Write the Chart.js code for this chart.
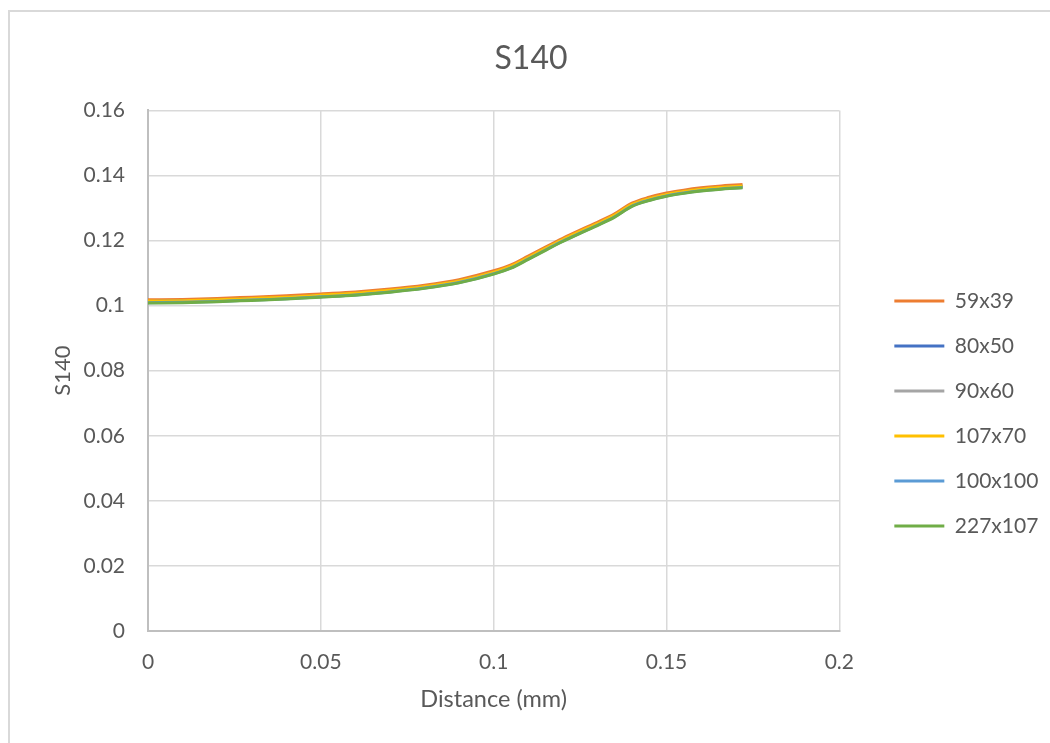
<!DOCTYPE html>
<html>
<head>
<meta charset="utf-8">
<script src="https://cdn.jsdelivr.net/npm/chart.js@4.4.1/dist/chart.umd.min.js"></script>
<style>
  html, body { margin: 0; padding: 0; background: #fff; }
  #wrap { position: relative; width: 1050px; height: 743px; overflow: hidden; }
  #frame { position: absolute; left: 8px; top: 10px; width: 1100px; height: 800px;
           border-left: 2px solid #d9d9d9; border-top: 2px solid #d9d9d9; }
  #trendChart { position: absolute; left: 0; top: 0; }
</style>
</head>
<body>
<div id="wrap">
  <div id="frame"></div>
  <canvas id="trendChart" width="1050" height="743"></canvas>
</div>
<script>
const distance = [0, 0.01, 0.02, 0.03, 0.04, 0.05, 0.06, 0.07, 0.08, 0.09, 0.1, 0.105, 0.11, 0.115, 0.12, 0.125, 0.13, 0.135, 0.14, 0.145, 0.15, 0.155, 0.16, 0.165, 0.172];

const s59x39 = [0.1018, 0.1019, 0.1022, 0.1026, 0.1030, 0.1036, 0.1042, 0.1051, 0.1063, 0.1080, 0.1107, 0.1125, 0.1152, 0.1180, 0.1207, 0.1232, 0.1256, 0.1282, 0.1315, 0.1333, 0.1346, 0.1355, 0.1362, 0.1367, 0.1372];
const s80x50 = [0.1013, 0.1014, 0.1017, 0.1021, 0.1025, 0.1031, 0.1037, 0.1046, 0.1058, 0.1075, 0.1102, 0.1120, 0.1147, 0.1175, 0.1202, 0.1227, 0.1251, 0.1277, 0.1310, 0.1328, 0.1341, 0.1350, 0.1357, 0.1362, 0.1367];
const s90x60 = [0.1012, 0.1013, 0.1016, 0.1020, 0.1024, 0.1030, 0.1036, 0.1045, 0.1057, 0.1074, 0.1101, 0.1119, 0.1146, 0.1174, 0.1201, 0.1226, 0.1250, 0.1276, 0.1309, 0.1327, 0.1340, 0.1349, 0.1356, 0.1361, 0.1366];
const s107x70 = [0.1014, 0.1015, 0.1018, 0.1022, 0.1026, 0.1032, 0.1038, 0.1047, 0.1059, 0.1076, 0.1103, 0.1121, 0.1148, 0.1176, 0.1203, 0.1228, 0.1252, 0.1278, 0.1311, 0.1329, 0.1342, 0.1351, 0.1358, 0.1363, 0.1368];
const s100x100 = [0.1009, 0.1010, 0.1013, 0.1017, 0.1021, 0.1027, 0.1033, 0.1042, 0.1054, 0.1071, 0.1098, 0.1116, 0.1143, 0.1171, 0.1198, 0.1223, 0.1247, 0.1273, 0.1306, 0.1324, 0.1337, 0.1346, 0.1353, 0.1358, 0.1363];
const s227x107 = [0.1008, 0.1009, 0.1012, 0.1016, 0.1020, 0.1026, 0.1032, 0.1041, 0.1053, 0.1070, 0.1097, 0.1115, 0.1142, 0.1170, 0.1197, 0.1222, 0.1246, 0.1272, 0.1305, 0.1323, 0.1336, 0.1345, 0.1352, 0.1357, 0.1362];

const seriesNames = ['59x39', '80x50', '90x60', '107x70', '100x100', '227x107'];
const seriesColors = ['#ED7D31', '#4472C4', '#A5A5A5', '#FFC000', '#5B9BD5', '#70AD47'];
const xTickLabels = ['0', '0.05', '0.1', '0.15', '0.2'];
const yTickLabels = ['0', '0.02', '0.04', '0.06', '0.08', '0.1', '0.12', '0.14', '0.16'];

const allSeries = [s59x39, s80x50, s90x60, s107x70, s100x100, s227x107];
const textColor = '#595959';
const fontFamily = 'Lato, "Open Sans", sans-serif';

// excel paints later series on top, chart.js paints lower order on top
const datasets = allSeries.map((vals, i) => ({
  label: seriesNames[i],
  data: vals.map((v, j) => ({ x: distance[j], y: v })),
  borderColor: seriesColors[i],
  backgroundColor: seriesColors[i],
  borderWidth: 3,
  pointRadius: 0,
  showLine: true,
  tension: 0.4,
  cubicInterpolationMode: 'monotone',
  order: allSeries.length - 1 - i
}));

const ctx = document.getElementById('trendChart').getContext('2d');
new Chart(ctx, {
  type: 'scatter',
  data: { datasets },
  options: {
    responsive: false,
    animation: false,
    layout: { padding: { left: 22, right: 10, top: 0, bottom: 26 } },
    plugins: {
      title: {
        display: true,
        text: 'S140',
        color: textColor,
        font: { family: fontFamily, size: 32, weight: 'normal' },
        padding: { top: 39, bottom: 33 }
      },
      legend: {
        position: 'right',
        title: { display: true, text: ' ', font: { size: 10 }, padding: { top: 98, bottom: 0 } },
        labels: {
          color: textColor,
          font: { family: fontFamily, size: 21 },
          boxWidth: 50,
          boxHeight: 0,
          padding: 24,
          sort: (a, b) => a.datasetIndex - b.datasetIndex
        }
      },
      tooltip: { enabled: false }
    },
    scales: {
      x: {
        type: 'linear',
        min: 0,
        max: 0.2,
        ticks: {
          stepSize: 0.05,
          color: textColor,
          padding: 19,
          font: { family: fontFamily, size: 21 },
          callback: (v, i) => xTickLabels[i]
        },
        grid: { color: '#d9d9d9', lineWidth: 1.5, drawTicks: false },
        border: { color: '#bfbfbf', width: 2 },
        title: {
          display: true,
          text: 'Distance (mm)',
          color: textColor,
          font: { family: fontFamily, size: 23.5 },
          padding: { top: 0, bottom: 3 }
        },
        afterFit: s => { s.height = 86; }
      },
      y: {
        type: 'linear',
        min: 0,
        max: 0.16,
        ticks: {
          stepSize: 0.02,
          color: textColor,
          padding: 23,
          font: { family: fontFamily, size: 21 },
          callback: (v, i) => yTickLabels[i]
        },
        grid: { color: '#d9d9d9', lineWidth: 1.5, drawTicks: false },
        border: { color: '#bfbfbf', width: 2 },
        title: {
          display: true,
          text: 'S140',
          color: textColor,
          font: { family: fontFamily, size: 22 },
          padding: { top: 28, bottom: 0 }
        },
        afterFit: s => { s.width = 126; }
      },
      gap: {
        type: 'linear',
        position: 'right',
        display: true,
        grid: { display: false },
        ticks: { display: false },
        border: { display: false },
        afterFit: s => { s.width = 31; }
      }
    }
  }
});
</script>
</body>
</html>
